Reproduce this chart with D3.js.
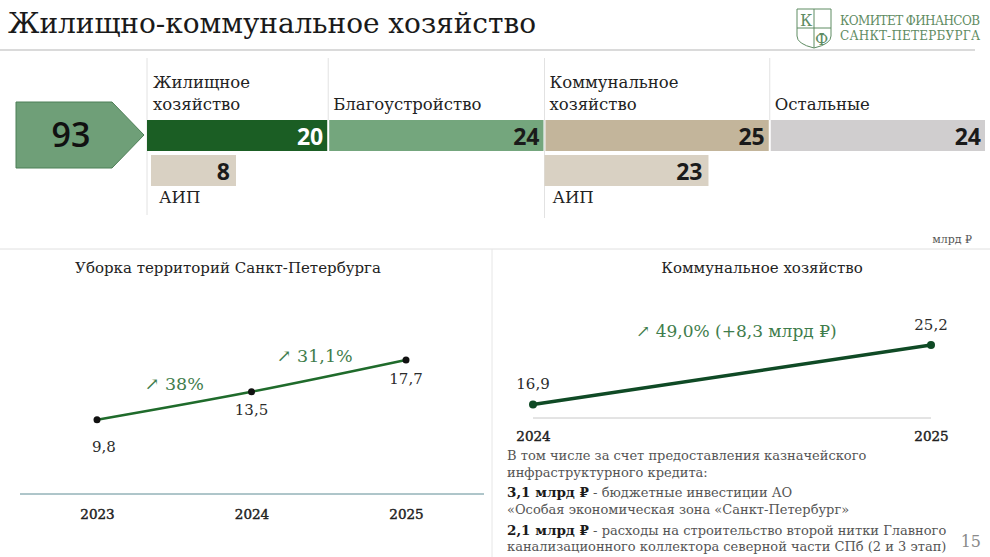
<!DOCTYPE html>
<html lang="ru">
<head>
<meta charset="utf-8">
<script src="https://d3js.org/d3.v7.min.js"></script>
<style>
  body { margin: 0; background: #fff; }
  svg { display: block; }
</style>
</head>
<body>
<script>
// page size
const W = 990, H = 557
const serif = "'DejaVu Serif', serif"
const sans = "'Open Sans', 'Liberation Sans', sans-serif"

// top block: structure of spending, bln rub
const totalValue = 93
const groupNames = [["Жилищное", "хозяйство"], ["Благоустройство"], ["Коммунальное", "хозяйство"], ["Остальные"]]
const groupValues = [20, 24, 25, 24]
const groupColors = ["#1b5e24", "#74a67d", "#c3b59b", "#d0cecf"]
const aipValues = [8, null, 23, null]

// left chart: territory cleaning
const cleanYears = ["2023", "2024", "2025"]
const cleanValues = [9.8, 13.5, 17.7]
const cleanGrowth = ["38%", "31,1%"]

// right chart: communal services
const commYears = ["2024", "2025"]
const commValues = [16.9, 25.2]
const commGrowth = "49,0% (+8,3 млрд ₽)"

const fmt = v => String(v).replace(".", ",")

let svg = d3.select("body").append("svg")
    .attr("width", W)
    .attr("height", H)

// ---------- header ----------
svg.append("text")
    .attr("x", 8).attr("y", 33)
    .attr("font-family", serif).attr("font-size", 28)
    .attr("fill", "#1a1a1a")
    .attr("textLength", 528)
    .text("Жилищно-коммунальное хозяйство")

svg.append("line")
    .attr("x1", 0).attr("x2", 975).attr("y1", 50).attr("y2", 50)
    .attr("stroke", "#b5b5b5").attr("stroke-width", 1)

// logo
let logo = svg.append("g").attr("fill", "none").attr("stroke", "#5f8c63").attr("stroke-width", 1)
logo.append("path").attr("d", "M797,9 L831,9 L831,36 Q831,44 814,48 Q797,44 797,36 Z")
logo.append("line").attr("x1", 814).attr("x2", 814).attr("y1", 9).attr("y2", 48)
logo.append("line").attr("x1", 797).attr("x2", 831).attr("y1", 28).attr("y2", 28)
svg.append("text").attr("x", 800).attr("y", 26)
    .attr("font-family", serif).attr("font-size", 16).attr("fill", "#5f8c63").text("К")
svg.append("text").attr("x", 815).attr("y", 45)
    .attr("font-family", serif).attr("font-size", 16).attr("fill", "#5f8c63").text("Ф")
svg.selectAll("text.logo")
    .data(["КОМИТЕТ ФИНАНСОВ", "САНКТ-ПЕТЕРБУРГА"])
    .enter().append("text")
    .attr("class", "logo")
    .attr("x", 840).attr("y", (d, i) => 25 + i * 15)
    .attr("font-family", serif).attr("font-size", 12)
    .attr("textLength", 140)
    .attr("fill", "#5f8c63")
    .text(d => d)

// ---------- top stacked block ----------
let cum = [0]
groupValues.forEach((v, i) => cum.push(cum[i] + v))

let xStack = d3.scaleLinear().domain([0, totalValue]).range([147, 985])
// AIP bars keep room for the label, so the scale does not start at zero width
let aipScale = d3.scaleLinear().domain([8, 23]).range([85, 164])

const barTop = 120, barH = 31
const subTop = 155, subH = 31

// column separators
const sepBottom = [215, 120, 218, 120]
svg.selectAll("line.sep")
    .data(groupValues)
    .enter().append("line")
    .attr("class", "sep")
    .attr("x1", (d, i) => xStack(cum[i]) + (i ? 1 : 0))
    .attr("x2", (d, i) => xStack(cum[i]) + (i ? 1 : 0))
    .attr("y1", 58)
    .attr("y2", (d, i) => sepBottom[i])
    .attr("stroke", "#e2e2e2")

// arrow with total
let ax0 = 16, ax1 = 112, ax2 = 144, ay0 = 102, ay1 = 168
svg.append("path")
    .attr("d", `M${ax0},${ay0} L${ax1},${ay0} L${ax2},${(ay0 + ay1) / 2} L${ax1},${ay1} L${ax0},${ay1} Z`)
    .attr("fill", "#6f9f78").attr("stroke", "#4d7e56").attr("stroke-width", 1)
svg.append("text")
    .attr("x", 71).attr("y", 147)
    .attr("text-anchor", "middle")
    .attr("font-family", sans).attr("font-size", 34).attr("font-weight", 600)
    .attr("fill", "#111")
    .text(totalValue)

// main bars
let groups = svg.selectAll("g.grp")
    .data(groupValues)
    .enter().append("g")
    .attr("class", "grp")

groups.append("rect")
    .attr("x", (d, i) => xStack(cum[i]) + (i ? 2 : 0))
    .attr("y", barTop)
    .attr("width", (d, i) => xStack(cum[i + 1]) - xStack(cum[i]) - (i ? 2 : 0))
    .attr("height", barH)
    .attr("fill", (d, i) => groupColors[i])

groups.append("text")
    .attr("x", (d, i) => xStack(cum[i + 1]) - 4)
    .attr("y", barTop + 25)
    .attr("text-anchor", "end")
    .attr("font-family", sans).attr("font-weight", "bold").attr("font-size", 23)
    .attr("fill", (d, i) => i === 0 ? "#fff" : "#1a1a1a")
    .text(d => d)

groups.each(function (d, i) {
    let lines = groupNames[i]
    d3.select(this).selectAll("text.name")
        .data(lines)
        .enter().append("text")
        .attr("class", "name")
        .attr("x", xStack(cum[i]) + 6)
        .attr("y", (t, j) => 110 - (lines.length - 1 - j) * 22)
        .attr("font-family", serif).attr("font-size", 16.5)
        .attr("fill", "#222")
        .text(t => t)
})

// AIP sub-bars
groupValues.forEach((d, i) => {
    let v = aipValues[i]
    if (v == null) return
    let x0 = xStack(cum[i]) + (i ? 1 : 4)
    svg.append("rect")
        .attr("x", x0).attr("y", subTop)
        .attr("width", aipScale(v)).attr("height", subH)
        .attr("fill", "#d9d1c3")
    svg.append("text")
        .attr("x", x0 + aipScale(v) - 6).attr("y", subTop + 25)
        .attr("text-anchor", "end")
        .attr("font-family", sans).attr("font-weight", "bold").attr("font-size", 23)
        .attr("fill", "#1a1a1a")
        .text(v)
    svg.append("text")
        .attr("x", x0 + 8).attr("y", 203)
        .attr("font-family", serif).attr("font-size", 16.5)
        .attr("fill", "#222")
        .text("АИП")
})

svg.append("text")
    .attr("x", 972).attr("y", 243)
    .attr("text-anchor", "end")
    .attr("font-family", serif).attr("font-size", 11)
    .attr("fill", "#555")
    .text("млрд ₽")

// panel dividers
svg.append("line")
    .attr("x1", 0).attr("x2", W).attr("y1", 249).attr("y2", 249)
    .attr("stroke", "#e0e0e0")
svg.append("line")
    .attr("x1", 492).attr("x2", 492).attr("y1", 249).attr("y2", H)
    .attr("stroke", "#e6e6e6")

// ---------- left line chart ----------
svg.append("text")
    .attr("x", 228).attr("y", 273)
    .attr("text-anchor", "middle")
    .attr("font-family", serif).attr("font-size", 15)
    .attr("fill", "#222")
    .text("Уборка территорий Санкт-Петербурга")

let xL = d3.scalePoint().domain(cleanYears).range([97, 406])
let yL = d3.scaleLinear().domain([0, 17.7]).range([494, 360])

svg.append("line")
    .attr("x1", 20).attr("x2", 484).attr("y1", yL(0)).attr("y2", yL(0))
    .attr("stroke", "#5f8c95").attr("stroke-width", 1)

let gxL = svg.append("g")
    .attr("transform", "translate(0," + 509 + ")")
    .call(d3.axisBottom(xL).tickSize(0).tickPadding(0))
gxL.select(".domain").remove()
gxL.selectAll("text")
    .attr("font-family", serif).attr("font-size", 13.5)
    .attr("fill", "#222").attr("stroke", "#222").attr("stroke-width", 0.45)
    .attr("dy", "0.75em")

let lineL = d3.line()
    .x((d, i) => xL(cleanYears[i]))
    .y(d => yL(d))
    .curve(d3.curveMonotoneX)

svg.append("path")
    .datum(cleanValues)
    .attr("d", lineL)
    .attr("fill", "none")
    .attr("stroke", "#1f6b2b")
    .attr("stroke-width", 2.5)

svg.selectAll("circle.cl")
    .data(cleanValues)
    .enter().append("circle")
    .attr("class", "cl")
    .attr("cx", (d, i) => xL(cleanYears[i]))
    .attr("cy", d => yL(d))
    .attr("r", 3.5)
    .attr("fill", "#111")

const lblOffL = [32, 23, 24]
const lblDxL = [7, 0, 0]
svg.selectAll("text.clv")
    .data(cleanValues)
    .enter().append("text")
    .attr("class", "clv")
    .attr("x", (d, i) => xL(cleanYears[i]) + lblDxL[i])
    .attr("y", (d, i) => yL(d) + lblOffL[i])
    .attr("text-anchor", "middle")
    .attr("font-family", serif).attr("font-size", 15)
    .attr("fill", "#2b2b2b")
    .text(fmt)

const growthDx = [0, -14], growthDy = [-16, -14]
svg.selectAll("text.clg")
    .data(cleanGrowth)
    .enter().append("text")
    .attr("class", "clg")
    .attr("x", (d, i) => (xL(cleanYears[i]) + xL(cleanYears[i + 1])) / 2 + growthDx[i])
    .attr("y", (d, i) => (yL(cleanValues[i]) + yL(cleanValues[i + 1])) / 2 + growthDy[i])
    .attr("text-anchor", "middle")
    .attr("font-family", serif).attr("font-size", 17.5)
    .attr("fill", "#3f7d4c")
    .text(d => "↗ " + d)

// ---------- right line chart ----------
svg.append("text")
    .attr("x", 762).attr("y", 273)
    .attr("text-anchor", "middle")
    .attr("font-family", serif).attr("font-size", 15)
    .attr("fill", "#222")
    .text("Коммунальное хозяйство")

let xR = d3.scalePoint().domain(commYears).range([533, 931])
let yR = d3.scaleLinear().domain([15, 25.2]).range([418, 345])

svg.append("line")
    .attr("x1", 533).attr("x2", 931).attr("y1", yR(15)).attr("y2", yR(15))
    .attr("stroke", "#c8c8c8").attr("stroke-width", 1)

let gxR = svg.append("g")
    .attr("transform", "translate(0," + 431 + ")")
    .call(d3.axisBottom(xR).tickSize(0).tickPadding(0))
gxR.select(".domain").remove()
gxR.selectAll("text")
    .attr("font-family", serif).attr("font-size", 13.5)
    .attr("fill", "#222").attr("stroke", "#222").attr("stroke-width", 0.45)
    .attr("dy", "0.75em")

svg.append("path")
    .datum(commValues)
    .attr("d", d3.line().x((d, i) => xR(commYears[i])).y(d => yR(d)))
    .attr("fill", "none")
    .attr("stroke", "#0f4a25")
    .attr("stroke-width", 3.5)

svg.selectAll("circle.cm")
    .data(commValues)
    .enter().append("circle")
    .attr("class", "cm")
    .attr("cx", (d, i) => xR(commYears[i]))
    .attr("cy", d => yR(d))
    .attr("r", 4)
    .attr("fill", "#0f4a25")

svg.selectAll("text.cmv")
    .data(commValues)
    .enter().append("text")
    .attr("class", "cmv")
    .attr("x", (d, i) => xR(commYears[i]))
    .attr("y", d => yR(d) - 15)
    .attr("text-anchor", "middle")
    .attr("font-family", serif).attr("font-size", 15)
    .attr("fill", "#2b2b2b")
    .text(fmt)

svg.append("text")
    .attr("x", 636).attr("y", 337)
    .attr("font-family", serif).attr("font-size", 17)
    .attr("fill", "#3f7d4c")
    .text("↗ " + commGrowth)

// footnote
const noteLines = [
    { b: "", t: "В том числе за счет предоставления казначейского", y: 460 },
    { b: "", t: "инфраструктурного кредита:", y: 477 },
    { b: "3,1 млрд ₽", t: " - бюджетные инвестиции АО", y: 497 },
    { b: "", t: "«Особая экономическая зона «Санкт-Петербург»", y: 514 },
    { b: "2,1 млрд ₽", t: " - расходы на строительство второй нитки Главного", y: 535 },
    { b: "", t: "канализационного коллектора северной части СПб (2 и 3 этап)", y: 551 }
]
let notes = svg.selectAll("text.note")
    .data(noteLines)
    .enter().append("text")
    .attr("class", "note")
    .attr("x", 507).attr("y", d => d.y)
    .attr("font-family", serif).attr("font-size", 13)
    .attr("fill", "#555")
notes.append("tspan")
    .attr("font-weight", "bold").attr("font-size", 13.5).attr("fill", "#1a1a1a")
    .text(d => d.b)
notes.append("tspan").text(d => d.t)

svg.append("text")
    .attr("x", 981).attr("y", 547)
    .attr("text-anchor", "end")
    .attr("font-family", serif).attr("font-size", 16)
    .attr("fill", "#8a8a8a")
    .text("15")
</script>
</body>
</html>
